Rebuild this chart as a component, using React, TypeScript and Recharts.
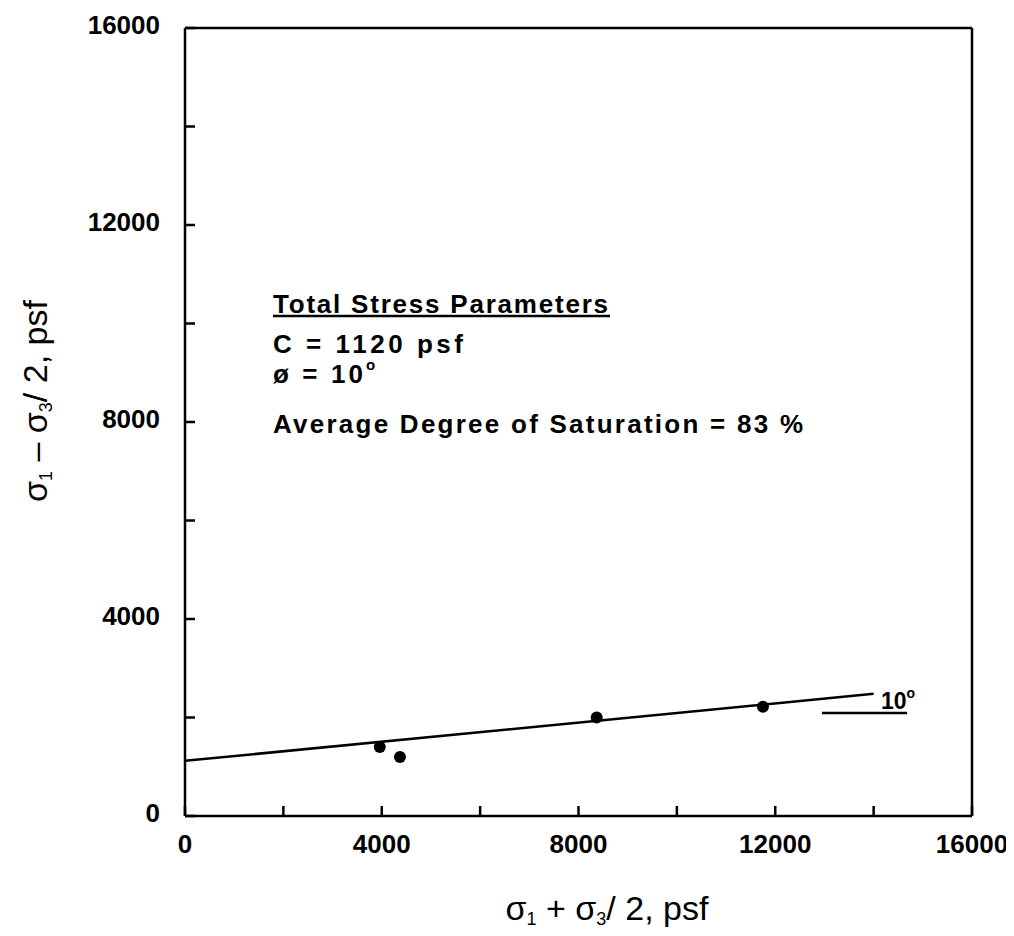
import React from "react";
import {
  ComposedChart, XAxis, YAxis, Line, Scatter, ReferenceLine, Customized,
} from "recharts";

// axis ticks (psf)
const AXIS_TICKS = [0, 2000, 4000, 6000, 8000, 10000, 12000, 14000, 16000];
const LABELED_TICKS = [0, 4000, 8000, 12000, 16000];

// test results: (s1+s3)/2 vs (s1-s3)/2
const testP = [3960, 4370, 8370, 11750];
const testQ = [1400, 1200, 2000, 2220];

// total stress envelope
const envelopeP = [0, 14000];
const envelopeQ = [1120, 2480];

// small horizontal reference under the 10° label
const slopeRefP = [12950, 14680];
const slopeRefQ = 2090;

const points = testP.map((x, i) => ({ x, y: testQ[i] }));
const envelope = envelopeP.map((x, i) => ({ x, y: envelopeQ[i] }));

const FONT = "'Liberation Sans', Arial, sans-serif";
const TICK_LEN = 10;

function makeTick(side: "left" | "right" | "top" | "bottom") {
  return (props: any) => {
    const { x, y, payload } = props;
    const v = payload.value;
    let line;
    if (side === "left") line = <line x1={x} y1={y} x2={x + TICK_LEN} y2={y} />;
    else if (side === "right") line = <line x1={x} y1={y} x2={x - TICK_LEN} y2={y} />;
    else if (side === "top") line = <line x1={x} y1={y} x2={x} y2={y + TICK_LEN} />;
    else line = <line x1={x} y1={y} x2={x} y2={y - TICK_LEN} />;
    const showLabel = LABELED_TICKS.includes(v) && (side === "left" || side === "bottom");
    return (
      <g>
        <g stroke="#000" strokeWidth={2.5}>{line}</g>
        {showLabel && side === "left" && (
          <text x={x - 25} y={y + 6} textAnchor="end" fontFamily={FONT} fontWeight="bold" fontSize={26} fill="#000">
            {v}
          </text>
        )}
        {showLabel && side === "bottom" && (
          <text x={x} y={y + 37} textAnchor="middle" fontFamily={FONT} fontWeight="bold" fontSize={26} fill="#000">
            {v}
          </text>
        )}
      </g>
    );
  };
}

function Annotations() {
  const txt = { fontFamily: FONT, fontWeight: "bold" as const, fontSize: 26, fill: "#000" };
  return (
    <g>
      <text x={265} y={305} {...txt} textLength={335} lengthAdjust="spacing">Total Stress Parameters</text>
      <line x1={265} y1={308} x2={602} y2={308} stroke="#000" strokeWidth={2.5} />
      <text x={265} y={345} {...txt} textLength={190} lengthAdjust="spacing">C = 1120 psf</text>
      <text x={265} y={375} {...txt}>
        <tspan textLength={90} lengthAdjust="spacing">ø = 10</tspan>
        <tspan fontSize={15} dy={-13}>o</tspan>
      </text>
      <text x={265} y={425} {...txt} textLength={530} lengthAdjust="spacing">
        Average Degree of Saturation = 83 %
      </text>

      <text x={873} y={701} fontFamily={FONT} fontWeight="bold" fontSize={23} fill="#000">
        <tspan>10</tspan>
        <tspan fontSize={14} dy={-11}>o</tspan>
      </text>

      <text x={599} y={912} textAnchor="middle" fontFamily={FONT} fontSize={34} fill="#000">
        <tspan>σ</tspan>
        <tspan fontSize={18} dy={5}>1</tspan>
        <tspan dy={-5}> + </tspan>
        <tspan>σ</tspan>
        <tspan fontSize={18} dy={5}>3</tspan>
        <tspan dy={-5}>/ 2, psf</tspan>
      </text>

      <text x={39} y={393} transform="rotate(-90 39 393)" textAnchor="middle" fontFamily={FONT} fontSize={34} fill="#000">
        <tspan>σ</tspan>
        <tspan fontSize={18} dy={5}>1</tspan>
        <tspan dy={-5}> – </tspan>
        <tspan>σ</tspan>
        <tspan fontSize={18} dy={5}>3</tspan>
        <tspan dy={-5}>/ 2, psf</tspan>
      </text>
    </g>
  );
}

export default function App() {
  const axisLine = { stroke: "#000", strokeWidth: 2.5 };
  return (
    <div style={{ width: 1006, height: 928 }}>
      <ComposedChart width={1006} height={928} margin={{ top: 19, right: 41, bottom: 119, left: 176 }}>
        <XAxis
          xAxisId="b" dataKey="x" type="number" domain={[0, 16000]} ticks={AXIS_TICKS} interval={0}
          orientation="bottom" height={1} tickSize={0} tickMargin={0} tickLine={false}
          axisLine={axisLine} tick={makeTick("bottom")}
        />
        <XAxis
          xAxisId="t" dataKey="x" type="number" domain={[0, 16000]} ticks={AXIS_TICKS} interval={0}
          orientation="top" height={1} tickSize={0} tickMargin={0} tickLine={false}
          axisLine={axisLine} tick={makeTick("top")}
        />
        <YAxis
          yAxisId="l" dataKey="y" type="number" domain={[0, 16000]} ticks={AXIS_TICKS} interval={0}
          orientation="left" width={1} tickSize={0} tickMargin={0} tickLine={false}
          axisLine={axisLine} tick={makeTick("left")}
        />
        <YAxis
          yAxisId="r" dataKey="y" type="number" domain={[0, 16000]} ticks={AXIS_TICKS} interval={0}
          orientation="right" width={1} tickSize={0} tickMargin={0} tickLine={false}
          axisLine={axisLine} tick={makeTick("right")}
        />
        <Line
          xAxisId="b" yAxisId="l" data={envelope} dataKey="y" type="linear"
          stroke="#000" strokeWidth={2.5} dot={false} activeDot={false} isAnimationActive={false}
        />
        <ReferenceLine
          xAxisId="b" yAxisId="l"
          segment={[{ x: slopeRefP[0], y: slopeRefQ }, { x: slopeRefP[1], y: slopeRefQ }]}
          stroke="#000" strokeWidth={2.5}
        />
        <Scatter
          xAxisId="b" yAxisId="l" data={points} dataKey="y" isAnimationActive={false}
          shape={(p: any) => <circle cx={p.cx} cy={p.cy} r={6} fill="#000" />}
        />
        <Customized component={Annotations} />
      </ComposedChart>
    </div>
  );
}
